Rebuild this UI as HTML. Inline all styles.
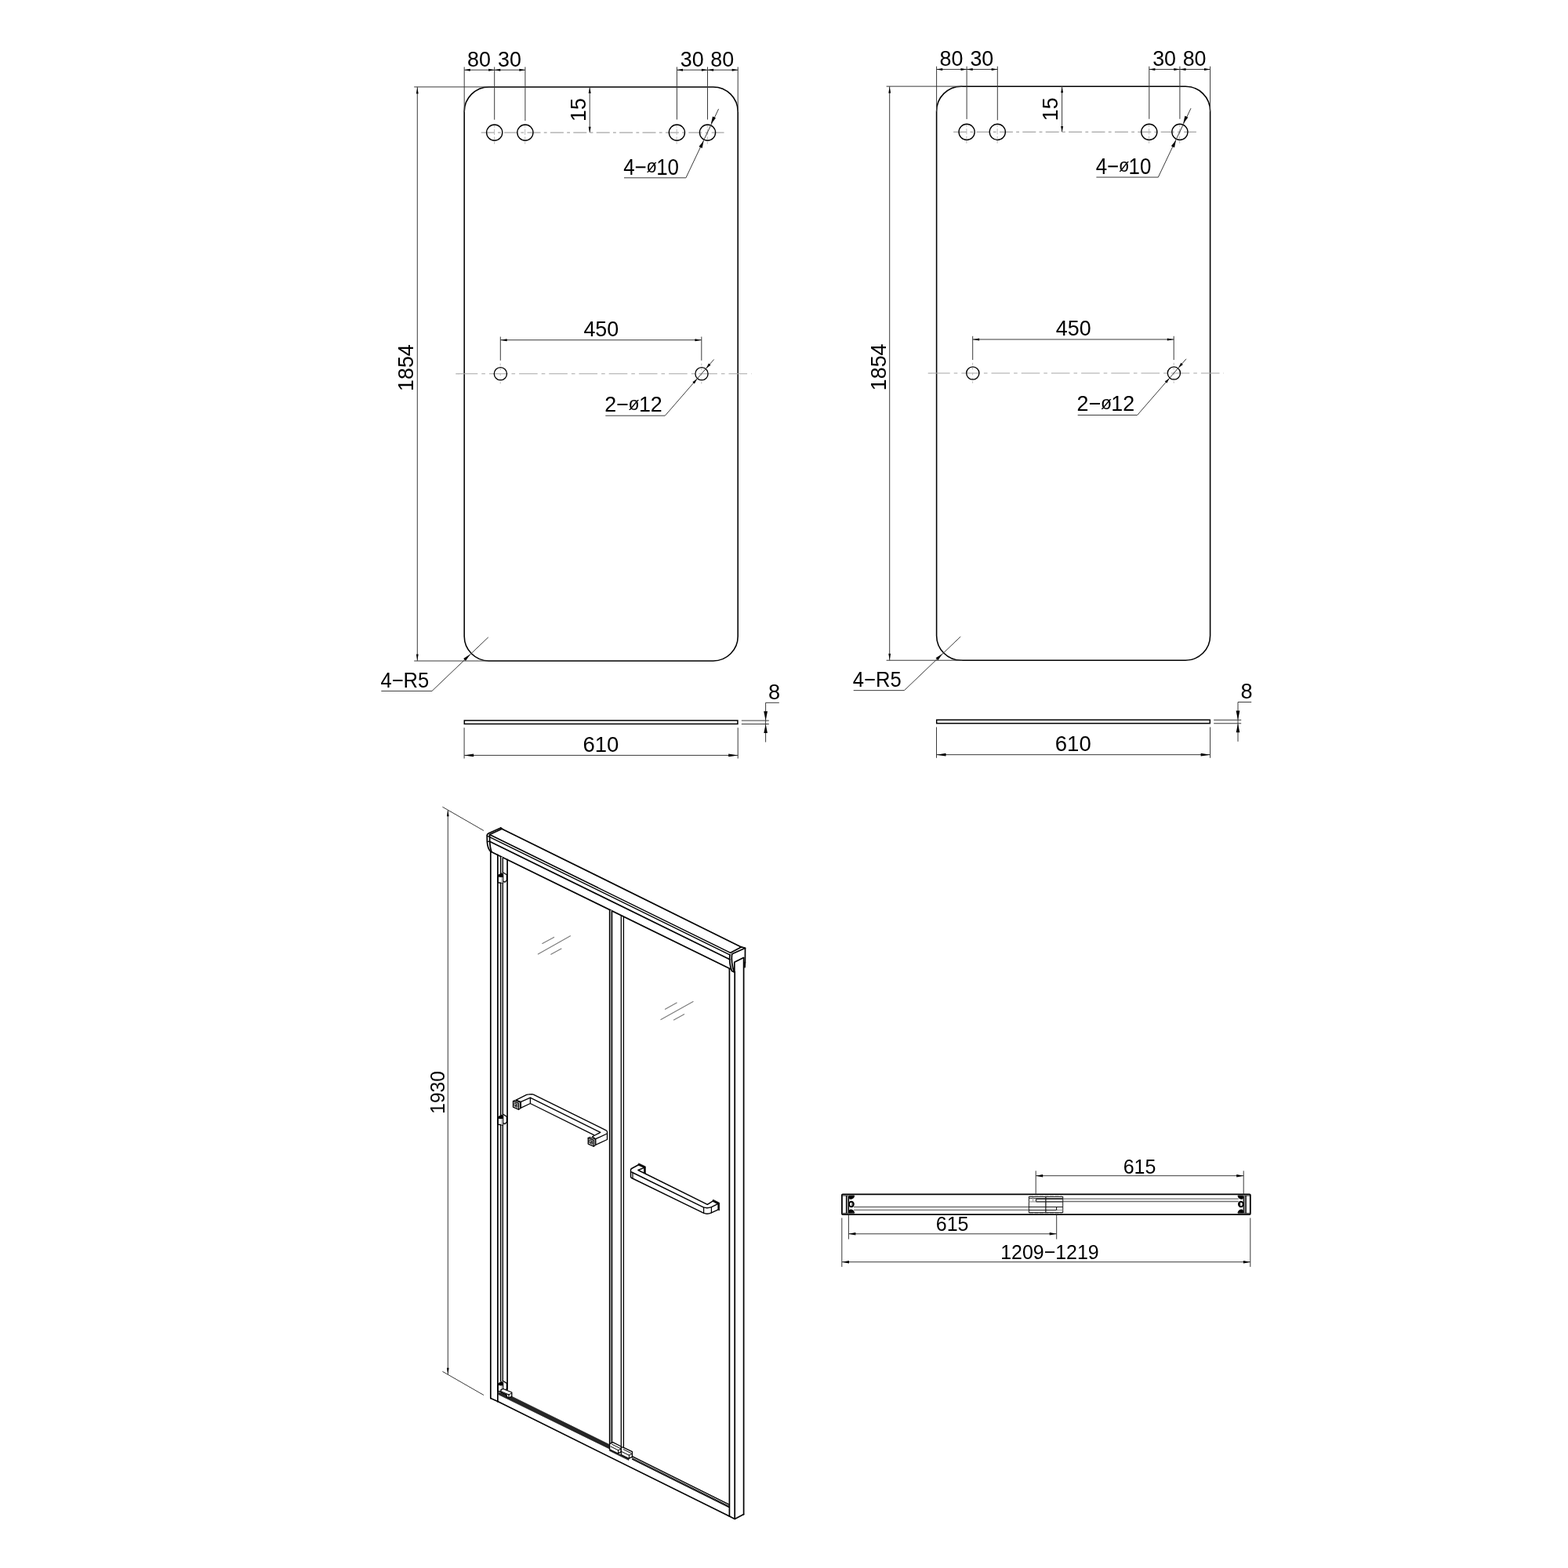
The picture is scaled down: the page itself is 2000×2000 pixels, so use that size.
<!DOCTYPE html>
<html lang="en"><head><meta charset="utf-8"><title>Shower door dimensions</title>
<style>html,body{margin:0;padding:0;background:#fff}body{width:2000px;height:2000px;overflow:hidden}svg{display:block;will-change:transform}text{font-family:"Liberation Sans",Arial,Helvetica,sans-serif;fill:#000}</style>
</head><body>
<svg width="2000" height="2000" viewBox="0 0 2000 2000" role="img" aria-label="Shower door dimension drawing">
<rect width="2000" height="2000" fill="#fff"/>
<g transform="translate(0 0)">
<rect x="592.2" y="110.9" width="349" height="732.1" rx="31.5" ry="31.5" fill="none" stroke="#000" stroke-width="1.55"/>
<line x1="592.2" y1="85.4" x2="592.2" y2="143" stroke="#3a3a3a" stroke-width="1.0" />
<line x1="630.7" y1="85.4" x2="630.7" y2="152.7" stroke="#3a3a3a" stroke-width="1.0" />
<line x1="669.9" y1="85.4" x2="669.9" y2="154" stroke="#3a3a3a" stroke-width="1.0" />
<line x1="863.4" y1="85.4" x2="863.4" y2="152.5" stroke="#3a3a3a" stroke-width="1.0" />
<line x1="902.5" y1="85.4" x2="902.5" y2="152.5" stroke="#3a3a3a" stroke-width="1.0" />
<line x1="941.2" y1="85.4" x2="941.2" y2="143" stroke="#3a3a3a" stroke-width="1.0" />
<line x1="592.2" y1="89.2" x2="669.9" y2="89.2" stroke="#3a3a3a" stroke-width="1.0" />
<line x1="863.4" y1="89.2" x2="941.2" y2="89.2" stroke="#3a3a3a" stroke-width="1.0" />
<polygon points="592.2,89.2 599.8,90.7 599.8,87.7" fill="#000"/>
<polygon points="630.7,89.2 623.1,87.7 623.1,90.7" fill="#000"/>
<polygon points="630.7,89.2 638.3,90.7 638.3,87.7" fill="#000"/>
<polygon points="669.9,89.2 662.3,87.7 662.3,90.7" fill="#000"/>
<polygon points="863.4,89.2 871,90.7 871,87.7" fill="#000"/>
<polygon points="902.5,89.2 894.9,87.7 894.9,90.7" fill="#000"/>
<polygon points="902.5,89.2 910.1,90.7 910.1,87.7" fill="#000"/>
<polygon points="941.2,89.2 933.6,87.7 933.6,90.7" fill="#000"/>
<text transform="translate(596.06 84.6) scale(0.97 1)" font-size="27.7">80</text>
<text transform="translate(634.99 84.6) scale(0.97 1)" font-size="27.7">30</text>
<text transform="translate(867.79 84.6) scale(0.97 1)" font-size="27.7">30</text>
<text transform="translate(906.26 84.6) scale(0.97 1)" font-size="27.7">80</text>
<line x1="752.2" y1="110.9" x2="752.2" y2="169.1" stroke="#3a3a3a" stroke-width="1.0" />
<polygon points="752.2,111.5 750.7,118.9 753.7,118.9" fill="#000"/>
<polygon points="752.2,169.1 753.7,161.7 750.7,161.7" fill="#000"/>
<text transform="translate(746.9 155.02) rotate(-90) scale(0.97 1)" font-size="27.7">15</text>
<line x1="613.4" y1="169.1" x2="923.5" y2="169.1" stroke="#a6a6a6" stroke-width="1.1" stroke-dasharray="17 4.3 3.8 4.3" stroke-dashoffset="-0.3"/>
<line x1="630.5" y1="158.5" x2="630.5" y2="183.6" stroke="#b4b4b4" stroke-width="0.9" stroke-dasharray="4 2.2 7.5 2.2 4 2.2 20"/>
<circle cx="630.7" cy="169.1" r="10.1" fill="none" stroke="#000" stroke-width="1.35"/>
<line x1="669.7" y1="158.5" x2="669.7" y2="183.6" stroke="#b4b4b4" stroke-width="0.9" stroke-dasharray="4 2.2 7.5 2.2 4 2.2 20"/>
<circle cx="669.9" cy="169.1" r="10.1" fill="none" stroke="#000" stroke-width="1.35"/>
<line x1="863.2" y1="158.5" x2="863.2" y2="183.6" stroke="#b4b4b4" stroke-width="0.9" stroke-dasharray="4 2.2 7.5 2.2 4 2.2 20"/>
<circle cx="863.4" cy="169.1" r="10.1" fill="none" stroke="#000" stroke-width="1.35"/>
<line x1="902.3" y1="158.5" x2="902.3" y2="183.6" stroke="#b4b4b4" stroke-width="0.9" stroke-dasharray="4 2.2 7.5 2.2 4 2.2 20"/>
<circle cx="902.5" cy="169.1" r="10.1" fill="none" stroke="#000" stroke-width="1.35"/>
<path d="M916.6,138.9 L874.9,226.8 L796,226.8" stroke="#3a3a3a" stroke-width="1.0" fill="none" />
<polygon points="906.7,158.6 912.97,150.51 909,148.62" fill="#000"/>
<polygon points="897.6,179.4 891.45,187 895.61,188.97" fill="#000"/>
<text transform="translate(795.37 222.7) scale(0.905 1)" font-size="28.6">4−<tspan font-size="24.31" dx="-0.3" dy="-2.57">ø</tspan><tspan dx="-0.9" dy="2.57">10</tspan></text>
<line x1="528.2" y1="110.9" x2="625" y2="110.9" stroke="#3a3a3a" stroke-width="1.0" />
<line x1="528.2" y1="843" x2="625" y2="843" stroke="#3a3a3a" stroke-width="1.0" />
<line x1="532.3" y1="110.9" x2="532.3" y2="843" stroke="#3a3a3a" stroke-width="1.0" />
<polygon points="532.3,111.4 530.9,119.4 533.7,119.4" fill="#000"/>
<polygon points="532.3,842.5 533.7,834.5 530.9,834.5" fill="#000"/>
<text transform="translate(527.1 498.92) rotate(-90) scale(0.97 1)" font-size="27.7">1854</text>
<line x1="638.3" y1="429.5" x2="638.3" y2="459.8" stroke="#3a3a3a" stroke-width="1.0" />
<line x1="894.8" y1="429.5" x2="894.8" y2="459.8" stroke="#3a3a3a" stroke-width="1.0" />
<line x1="638.3" y1="433.7" x2="894.8" y2="433.7" stroke="#3a3a3a" stroke-width="1.0" />
<polygon points="638.3,433.7 646.7,435.2 646.7,432.2" fill="#000"/>
<polygon points="894.8,433.7 886.4,432.2 886.4,435.2" fill="#000"/>
<text transform="translate(744.4 428.7) scale(0.97 1)" font-size="27.7">450</text>
<line x1="581.3" y1="476.8" x2="958.6" y2="476.8" stroke="#a6a6a6" stroke-width="1.1" stroke-dasharray="23.6 5 4.6 5" stroke-dashoffset="-4.4"/>
<line x1="581.3" y1="476.8" x2="586" y2="476.8" stroke="#a6a6a6" stroke-width="1.1" />
<line x1="638.2" y1="463.5" x2="638.2" y2="489.5" stroke="#b4b4b4" stroke-width="0.9" stroke-dasharray="3 3.2 2.4 4 3 3.5 2.4 2 2.5"/>
<circle cx="638.4" cy="476.8" r="8.1" fill="none" stroke="#000" stroke-width="1.35"/>
<line x1="894.8" y1="463.5" x2="894.8" y2="489.5" stroke="#b4b4b4" stroke-width="0.9" stroke-dasharray="3 3.2 2.4 4 3 3.5 2.4 2 2.5"/>
<circle cx="895" cy="476.8" r="8.1" fill="none" stroke="#000" stroke-width="1.35"/>
<path d="M910.6,458.5 L848.3,530.2 L772.3,530.2" stroke="#3a3a3a" stroke-width="1.0" fill="none" />
<polygon points="900.6,470 906.47,465.83 903.91,463.6" fill="#000"/>
<polygon points="889.2,483.2 883.33,487.37 885.89,489.6" fill="#000"/>
<text transform="translate(771.16 525) scale(0.97 1)" font-size="27.7">2−<tspan font-size="23.82" dx="-0.3" dy="-2.27">ø</tspan><tspan dx="-0.7" dy="2.27">12</tspan></text>
<path d="M622.8,812.8 L551.0,881.4 L486.3,881.4" stroke="#3a3a3a" stroke-width="1.0" fill="none" />
<polygon points="599.8,834.6 591.19,840.06 593.95,842.95" fill="#000"/>
<text transform="translate(485.42 876.75) scale(0.924 1)" font-size="27.7">4−R5</text>
<rect x="592.3" y="919.0" width="348.6" height="4.4" fill="none" stroke="#000" stroke-width="1.5"/>
<line x1="592.1" y1="928.2" x2="592.1" y2="967.5" stroke="#3a3a3a" stroke-width="1.0" />
<line x1="941.2" y1="928.2" x2="941.2" y2="967.5" stroke="#3a3a3a" stroke-width="1.0" />
<line x1="592.1" y1="963.4" x2="941.2" y2="963.4" stroke="#3a3a3a" stroke-width="1.0" />
<polygon points="592.1,963.4 604.1,965.3 604.1,961.5" fill="#000"/>
<polygon points="941.2,963.4 929.2,961.5 929.2,965.3" fill="#000"/>
<text transform="translate(743.42 958.6) scale(0.983 1)" font-size="28">610</text>
<line x1="945.8" y1="919.1" x2="980.8" y2="919.1" stroke="#3a3a3a" stroke-width="1.0" />
<line x1="945.8" y1="923.5" x2="980.8" y2="923.5" stroke="#3a3a3a" stroke-width="1.0" />
<path d="M993.8,896.3 L976.6,896.3 L976.6,946.6" stroke="#3a3a3a" stroke-width="1.0" fill="none" />
<polygon points="976.6,919 979,907.2 974.2,907.2" fill="#000"/>
<polygon points="976.6,923.7 974.3,935.1 978.9,935.1" fill="#000"/>
<text transform="translate(980.05 891.8) scale(0.98 1)" font-size="27.7">8</text>
</g>
<g transform="translate(602.4 -0.75)">
<rect x="592.2" y="110.9" width="349" height="732.1" rx="31.5" ry="31.5" fill="none" stroke="#000" stroke-width="1.55"/>
<line x1="592.2" y1="85.4" x2="592.2" y2="143" stroke="#3a3a3a" stroke-width="1.0" />
<line x1="630.7" y1="85.4" x2="630.7" y2="152.7" stroke="#3a3a3a" stroke-width="1.0" />
<line x1="669.9" y1="85.4" x2="669.9" y2="154" stroke="#3a3a3a" stroke-width="1.0" />
<line x1="863.4" y1="85.4" x2="863.4" y2="152.5" stroke="#3a3a3a" stroke-width="1.0" />
<line x1="902.5" y1="85.4" x2="902.5" y2="152.5" stroke="#3a3a3a" stroke-width="1.0" />
<line x1="941.2" y1="85.4" x2="941.2" y2="143" stroke="#3a3a3a" stroke-width="1.0" />
<line x1="592.2" y1="89.2" x2="669.9" y2="89.2" stroke="#3a3a3a" stroke-width="1.0" />
<line x1="863.4" y1="89.2" x2="941.2" y2="89.2" stroke="#3a3a3a" stroke-width="1.0" />
<polygon points="592.2,89.2 599.8,90.7 599.8,87.7" fill="#000"/>
<polygon points="630.7,89.2 623.1,87.7 623.1,90.7" fill="#000"/>
<polygon points="630.7,89.2 638.3,90.7 638.3,87.7" fill="#000"/>
<polygon points="669.9,89.2 662.3,87.7 662.3,90.7" fill="#000"/>
<polygon points="863.4,89.2 871,90.7 871,87.7" fill="#000"/>
<polygon points="902.5,89.2 894.9,87.7 894.9,90.7" fill="#000"/>
<polygon points="902.5,89.2 910.1,90.7 910.1,87.7" fill="#000"/>
<polygon points="941.2,89.2 933.6,87.7 933.6,90.7" fill="#000"/>
<text transform="translate(596.06 84.6) scale(0.97 1)" font-size="27.7">80</text>
<text transform="translate(634.99 84.6) scale(0.97 1)" font-size="27.7">30</text>
<text transform="translate(867.79 84.6) scale(0.97 1)" font-size="27.7">30</text>
<text transform="translate(906.26 84.6) scale(0.97 1)" font-size="27.7">80</text>
<line x1="752.2" y1="110.9" x2="752.2" y2="169.1" stroke="#3a3a3a" stroke-width="1.0" />
<polygon points="752.2,111.5 750.7,118.9 753.7,118.9" fill="#000"/>
<polygon points="752.2,169.1 753.7,161.7 750.7,161.7" fill="#000"/>
<text transform="translate(746.9 155.02) rotate(-90) scale(0.97 1)" font-size="27.7">15</text>
<line x1="613.4" y1="169.1" x2="923.5" y2="169.1" stroke="#a6a6a6" stroke-width="1.1" stroke-dasharray="17 4.3 3.8 4.3" stroke-dashoffset="-0.3"/>
<line x1="630.5" y1="158.5" x2="630.5" y2="183.6" stroke="#b4b4b4" stroke-width="0.9" stroke-dasharray="4 2.2 7.5 2.2 4 2.2 20"/>
<circle cx="630.7" cy="169.1" r="10.1" fill="none" stroke="#000" stroke-width="1.35"/>
<line x1="669.7" y1="158.5" x2="669.7" y2="183.6" stroke="#b4b4b4" stroke-width="0.9" stroke-dasharray="4 2.2 7.5 2.2 4 2.2 20"/>
<circle cx="669.9" cy="169.1" r="10.1" fill="none" stroke="#000" stroke-width="1.35"/>
<line x1="863.2" y1="158.5" x2="863.2" y2="183.6" stroke="#b4b4b4" stroke-width="0.9" stroke-dasharray="4 2.2 7.5 2.2 4 2.2 20"/>
<circle cx="863.4" cy="169.1" r="10.1" fill="none" stroke="#000" stroke-width="1.35"/>
<line x1="902.3" y1="158.5" x2="902.3" y2="183.6" stroke="#b4b4b4" stroke-width="0.9" stroke-dasharray="4 2.2 7.5 2.2 4 2.2 20"/>
<circle cx="902.5" cy="169.1" r="10.1" fill="none" stroke="#000" stroke-width="1.35"/>
<path d="M916.6,138.9 L874.9,226.8 L796,226.8" stroke="#3a3a3a" stroke-width="1.0" fill="none" />
<polygon points="906.7,158.6 912.97,150.51 909,148.62" fill="#000"/>
<polygon points="897.6,179.4 891.45,187 895.61,188.97" fill="#000"/>
<text transform="translate(795.37 222.7) scale(0.905 1)" font-size="28.6">4−<tspan font-size="24.31" dx="-0.3" dy="-2.57">ø</tspan><tspan dx="-0.9" dy="2.57">10</tspan></text>
<line x1="528.2" y1="110.9" x2="625" y2="110.9" stroke="#3a3a3a" stroke-width="1.0" />
<line x1="528.2" y1="843" x2="625" y2="843" stroke="#3a3a3a" stroke-width="1.0" />
<line x1="532.3" y1="110.9" x2="532.3" y2="843" stroke="#3a3a3a" stroke-width="1.0" />
<polygon points="532.3,111.4 530.9,119.4 533.7,119.4" fill="#000"/>
<polygon points="532.3,842.5 533.7,834.5 530.9,834.5" fill="#000"/>
<text transform="translate(527.1 498.92) rotate(-90) scale(0.97 1)" font-size="27.7">1854</text>
<line x1="638.3" y1="429.5" x2="638.3" y2="459.8" stroke="#3a3a3a" stroke-width="1.0" />
<line x1="894.8" y1="429.5" x2="894.8" y2="459.8" stroke="#3a3a3a" stroke-width="1.0" />
<line x1="638.3" y1="433.7" x2="894.8" y2="433.7" stroke="#3a3a3a" stroke-width="1.0" />
<polygon points="638.3,433.7 646.7,435.2 646.7,432.2" fill="#000"/>
<polygon points="894.8,433.7 886.4,432.2 886.4,435.2" fill="#000"/>
<text transform="translate(744.4 428.7) scale(0.97 1)" font-size="27.7">450</text>
<line x1="581.3" y1="476.8" x2="958.6" y2="476.8" stroke="#a6a6a6" stroke-width="1.1" stroke-dasharray="23.6 5 4.6 5" stroke-dashoffset="-4.4"/>
<line x1="581.3" y1="476.8" x2="586" y2="476.8" stroke="#a6a6a6" stroke-width="1.1" />
<line x1="638.2" y1="463.5" x2="638.2" y2="489.5" stroke="#b4b4b4" stroke-width="0.9" stroke-dasharray="3 3.2 2.4 4 3 3.5 2.4 2 2.5"/>
<circle cx="638.4" cy="476.8" r="8.1" fill="none" stroke="#000" stroke-width="1.35"/>
<line x1="894.8" y1="463.5" x2="894.8" y2="489.5" stroke="#b4b4b4" stroke-width="0.9" stroke-dasharray="3 3.2 2.4 4 3 3.5 2.4 2 2.5"/>
<circle cx="895" cy="476.8" r="8.1" fill="none" stroke="#000" stroke-width="1.35"/>
<path d="M910.6,458.5 L848.3,530.2 L772.3,530.2" stroke="#3a3a3a" stroke-width="1.0" fill="none" />
<polygon points="900.6,470 906.47,465.83 903.91,463.6" fill="#000"/>
<polygon points="889.2,483.2 883.33,487.37 885.89,489.6" fill="#000"/>
<text transform="translate(771.16 525) scale(0.97 1)" font-size="27.7">2−<tspan font-size="23.82" dx="-0.3" dy="-2.27">ø</tspan><tspan dx="-0.7" dy="2.27">12</tspan></text>
<path d="M622.8,812.8 L551.0,881.4 L486.3,881.4" stroke="#3a3a3a" stroke-width="1.0" fill="none" />
<polygon points="599.8,834.6 591.19,840.06 593.95,842.95" fill="#000"/>
<text transform="translate(485.42 876.75) scale(0.924 1)" font-size="27.7">4−R5</text>
<rect x="592.3" y="919.0" width="348.6" height="4.4" fill="none" stroke="#000" stroke-width="1.5"/>
<line x1="592.1" y1="928.2" x2="592.1" y2="967.5" stroke="#3a3a3a" stroke-width="1.0" />
<line x1="941.2" y1="928.2" x2="941.2" y2="967.5" stroke="#3a3a3a" stroke-width="1.0" />
<line x1="592.1" y1="963.4" x2="941.2" y2="963.4" stroke="#3a3a3a" stroke-width="1.0" />
<polygon points="592.1,963.4 604.1,965.3 604.1,961.5" fill="#000"/>
<polygon points="941.2,963.4 929.2,961.5 929.2,965.3" fill="#000"/>
<text transform="translate(743.42 958.6) scale(0.983 1)" font-size="28">610</text>
<line x1="945.8" y1="919.1" x2="980.8" y2="919.1" stroke="#3a3a3a" stroke-width="1.0" />
<line x1="945.8" y1="923.5" x2="980.8" y2="923.5" stroke="#3a3a3a" stroke-width="1.0" />
<path d="M993.8,896.3 L976.6,896.3 L976.6,946.6" stroke="#3a3a3a" stroke-width="1.0" fill="none" />
<polygon points="976.6,919 979,907.2 974.2,907.2" fill="#000"/>
<polygon points="976.6,923.7 974.3,935.1 978.9,935.1" fill="#000"/>
<text transform="translate(980.05 891.8) scale(0.98 1)" font-size="27.7">8</text>
</g>
<g stroke-linecap="round" stroke-linejoin="round">
<line x1="691.8" y1="1203.5" x2="706.6" y2="1195.4" stroke="#7a7a7a" stroke-width="1.1" />
<line x1="686.3" y1="1216.9" x2="727.5" y2="1193.8" stroke="#7a7a7a" stroke-width="1.1" />
<line x1="702.8" y1="1217.3" x2="716" y2="1210" stroke="#7a7a7a" stroke-width="1.1" />
<line x1="848.4" y1="1287.2" x2="863.2" y2="1279.1" stroke="#7a7a7a" stroke-width="1.1" />
<line x1="842.9" y1="1300.6" x2="884.1" y2="1277.5" stroke="#7a7a7a" stroke-width="1.1" />
<line x1="859.4" y1="1301" x2="872.6" y2="1293.7" stroke="#7a7a7a" stroke-width="1.1" />
<line x1="640.2" y1="1057.2" x2="945.5" y2="1207.9" stroke="#000" stroke-width="1.7" />
<line x1="624.5" y1="1064.5" x2="931.8" y2="1215.3" stroke="#000" stroke-width="1.5" />
<line x1="624.5" y1="1067.6" x2="930.8" y2="1217.8" stroke="#000" stroke-width="1.5" />
<line x1="624.5" y1="1073.2" x2="930.8" y2="1223.8" stroke="#000" stroke-width="1.7" />
<line x1="626.6" y1="1086.4" x2="931.4" y2="1235.8" stroke="#000" stroke-width="1.7" />
<path d="M638.7,1056.0 L623,1063.0 Q621.2,1063.9 621.2,1065.6 L621.4,1074 Q621.9,1082.5 626.2,1086.6" stroke="#000" stroke-width="1.7" fill="none" />
<path d="M621.3,1066.0 L624.5,1067.6 M621.5,1073.6 L624.5,1073.2" stroke="#000" stroke-width="1.3" fill="none" />
<path d="M640.2,1057.2 L624.5,1064.5 L624.7,1073.6 Q625.1,1081.5 626.9,1086.2" stroke="#000" stroke-width="1.7" fill="none" />
<path d="M638.7,1056.0 L640.3,1057.2" stroke="#000" stroke-width="1.7" fill="none" />
<path d="M931.8,1215.3 L945.5,1207.9 L950.5,1209.3 L950.4,1228" stroke="#000" stroke-width="1.7" fill="none" />
<path d="M933.9,1216.8 L950.5,1209.3" stroke="#000" stroke-width="1.7" fill="none" />
<path d="M930.9,1217.5 Q929.6,1228 933.4,1238.4 L935.8,1239.5" stroke="#000" stroke-width="1.7" fill="none" />
<path d="M933.6,1217 Q932.3,1228 936.4,1240" stroke="#000" stroke-width="1.7" fill="none" />
<path d="M936.8,1239 L936.8,1227.3 L948.4,1221.6" stroke="#000" stroke-width="1.7" fill="none" />
<path d="M950.2,1227.5 L949.9,1233.6" stroke="#000" stroke-width="2.0" fill="none" />
<rect x="638.6" y="1093" width="2.8" height="669" fill="#cfcfcf"/>
<line x1="625.8" y1="1086.6" x2="625.8" y2="1783.5" stroke="#000" stroke-width="1.7" />
<line x1="634.85" y1="1090.4" x2="634.85" y2="1787.6" stroke="#000" stroke-width="1.7" />
<line x1="638.6" y1="1092.3" x2="638.6" y2="1762" stroke="#000" stroke-width="1.2" />
<line x1="641.4" y1="1093.7" x2="641.4" y2="1762" stroke="#000" stroke-width="1.2" />
<line x1="647.1" y1="1096.4" x2="647.1" y2="1772.6" stroke="#000" stroke-width="1.7" />
<line x1="625.8" y1="1783.5" x2="634.85" y2="1787.6" stroke="#000" stroke-width="1.7" />
<path d="M641.4,1112.7 L646.4,1115.8 L646.4,1122.6 L644.2,1125.2 L641.8,1124.2" stroke="#000" stroke-width="1.3" fill="#fff" />
<path d="M635.2,1117.4 L641.6,1118.6 L641.6,1126.6 L635.2,1125.8 Z" stroke="#000" stroke-width="1.5" fill="#fff" />
<rect x="639.2" y="1118.6" width="2.2" height="7.8" fill="#bbb"/>
<path d="M635.4,1116.2 L639.6,1114 L641.8,1114.6 L641.8,1118.2 L635.4,1117.6 Z" stroke="#000" stroke-width="1.0" fill="#000" />
<path d="M641.4,1421.1 L646.4,1424.2 L646.4,1431 L644.2,1433.6 L641.8,1432.6" stroke="#000" stroke-width="1.3" fill="#fff" />
<path d="M635.2,1425.8 L641.6,1427 L641.6,1435 L635.2,1434.2 Z" stroke="#000" stroke-width="1.5" fill="#fff" />
<rect x="639.2" y="1427" width="2.2" height="7.8" fill="#bbb"/>
<path d="M635.4,1424.6 L639.6,1422.4 L641.8,1423 L641.8,1426.6 L635.4,1426 Z" stroke="#000" stroke-width="1.0" fill="#000" />
<path d="M641.4,1761.3 L646.4,1764.4 L646.4,1771.2 L644.2,1773.8 L641.8,1772.8" stroke="#000" stroke-width="1.3" fill="#fff" />
<path d="M635.2,1766 L641.6,1767.2 L641.6,1775.2 L635.2,1774.4 Z" stroke="#000" stroke-width="1.5" fill="#fff" />
<rect x="639.2" y="1767.2" width="2.2" height="7.8" fill="#bbb"/>
<path d="M635.4,1764.8 L639.6,1762.6 L641.8,1763.2 L641.8,1766.8 L635.4,1766.2 Z" stroke="#000" stroke-width="1.0" fill="#000" />
<rect x="777.5" y="1161" width="3.1" height="680" fill="#9a9a9a"/>
<line x1="777.5" y1="1160.4" x2="777.5" y2="1841.5" stroke="#000" stroke-width="1.3" />
<line x1="780.6" y1="1161.9" x2="780.6" y2="1841" stroke="#000" stroke-width="1.3" />
<line x1="792.3" y1="1167.6" x2="792.3" y2="1845.2" stroke="#000" stroke-width="1.3" />
<line x1="795.4" y1="1169.1" x2="795.4" y2="1846.5" stroke="#000" stroke-width="1.3" />
<line x1="930.4" y1="1236.3" x2="930.4" y2="1934.1" stroke="#000" stroke-width="1.7" />
<line x1="937.2" y1="1239.5" x2="937.2" y2="1937.3" stroke="#000" stroke-width="1.7" />
<line x1="948.6" y1="1221.6" x2="948.6" y2="1931.6" stroke="#000" stroke-width="1.7" />
<path d="M930.4,1934.1 L937.2,1937.4 L948.6,1931.6" stroke="#000" stroke-width="1.7" fill="none" />
<line x1="634.85" y1="1787.6" x2="930.4" y2="1934.1" stroke="#000" stroke-width="1.7" />
<path d="M635.6,1775.9 L653.2,1781.4 L777.5,1842.7 L777.5,1848 L635.6,1778.6 Z" stroke="#151515" stroke-width="0.7" fill="#262626" />
<path d="M641.8,1771.5 L652.8,1776 L652.8,1781.2 L649.3,1783 L646.2,1781.6 L646.2,1779.2 L639,1776.2 L639,1772.6 Z" stroke="#000" stroke-width="1.3" fill="#fff" />
<line x1="639.6" y1="1775" x2="649" y2="1778.9" stroke="#000" stroke-width="1.1" />
<line x1="649" y1="1778.9" x2="649" y2="1782.6" stroke="#000" stroke-width="1.1" />
<line x1="649" y1="1778.9" x2="652.6" y2="1777" stroke="#000" stroke-width="1.0" />
<line x1="806.4" y1="1857.6" x2="929.6" y2="1918.9" stroke="#000" stroke-width="1.4" />
<line x1="806.4" y1="1859.7" x2="929.6" y2="1921" stroke="#000" stroke-width="1.0" />
<line x1="806.4" y1="1861.1" x2="929.6" y2="1922.4" stroke="#000" stroke-width="1.2" />
<path d="M777.6,1841.6 L781.7,1839.7 L792.3,1845 L792.3,1851.8 L787.8,1853.8 L777.6,1848.8 Z" stroke="#000" stroke-width="1.3" fill="#fff" />
<line x1="780.6" y1="1842.2" x2="791" y2="1847.4" stroke="#000" stroke-width="1.0" />
<line x1="779" y1="1845" x2="788.5" y2="1849.8" stroke="#000" stroke-width="1.0" />
<line x1="788.5" y1="1849.8" x2="788.5" y2="1853.2" stroke="#000" stroke-width="1.0" />
<line x1="788.5" y1="1849.8" x2="792.3" y2="1848" stroke="#000" stroke-width="1.0" />
<path d="M792.3,1845.6 L795.4,1846.3 L806.4,1851.7 L806.4,1858.2 L802,1860.4 L792.3,1855.6 Z" stroke="#000" stroke-width="1.3" fill="#fff" />
<line x1="795.4" y1="1848.8" x2="805" y2="1853.6" stroke="#000" stroke-width="1.0" />
<line x1="793" y1="1851.6" x2="802.4" y2="1856.2" stroke="#000" stroke-width="1.0" />
<line x1="802.4" y1="1856.2" x2="802.4" y2="1860" stroke="#000" stroke-width="1.0" />
<line x1="802.4" y1="1856.2" x2="806.4" y2="1854.3" stroke="#000" stroke-width="1.0" />
<path d="M777.6,1848.8 L787.8,1853.8 L802,1860.4 L802,1862.6 L777.6,1850.6 Z" stroke="#111" stroke-width="0.6" fill="#222" />
<path d="M658.2,1403.2 L671.6,1396.4 Q672.8,1395.8 674.2,1395.8 L678.4,1395.7 Q679.8,1395.7 681.0,1396.3 L773.2,1441.8 Q774.5,1442.5 774.5,1444 L774.5,1453.5 L760.0,1460.2" stroke="#000" stroke-width="1.3" fill="none" />
<path d="M664.4,1405.3 L676.4,1400.1 L765.8,1444.4 L755.6,1449.8" stroke="#000" stroke-width="1.3" fill="none" />
<path d="M664.4,1413.1 L676.4,1407.5 L757.4,1447.6" stroke="#000" stroke-width="1.3" fill="none" />
<path d="M676.4,1400.1 L676.4,1407.5" stroke="#000" stroke-width="1.3" fill="none" />
<path d="M658.2,1403.2 L664.4,1405.3 L664.4,1413.1" stroke="#000" stroke-width="1.3" fill="none" />
<path d="M774.3,1446.0 L759.8,1452.7 L759.8,1459.9 M755.6,1449.8 L759.8,1452.7" stroke="#000" stroke-width="1.3" fill="none" />
<path d="M654.5,1404.4 L661.5,1407.3 L661.5,1415.2 L654.5,1412.1 Z" stroke="#000" stroke-width="1.3" fill="#fff" />
<path d="M654.5,1404.4 L656.7,1403.4 L663.5,1406.3 L663.5,1414 L661.5,1415.2" stroke="#000" stroke-width="1.1" fill="none" />
<path d="M656.3,1407 L659.9,1408.5 L659.9,1412.4 L656.3,1410.8 Z" stroke="#000" stroke-width="0.9" fill="none" />
<ellipse cx="658.1" cy="1409.7" rx="1.2" ry="1.3" fill="#222"/>
<path d="M750.2,1451.4 L757.2,1454.3 L757.2,1462.2 L750.2,1459.1 Z" stroke="#000" stroke-width="1.3" fill="#fff" />
<path d="M750.2,1451.4 L752.4,1450.4 L759.2,1453.3 L759.2,1461 L757.2,1462.2" stroke="#000" stroke-width="1.1" fill="none" />
<path d="M752,1454 L755.6,1455.5 L755.6,1459.4 L752,1457.8 Z" stroke="#000" stroke-width="0.9" fill="none" />
<ellipse cx="753.8" cy="1456.7" rx="1.2" ry="1.3" fill="#222"/>
<path d="M821.2,1489.6 L813.9,1492.5 L902.3,1536.3 L909.8,1531.6" stroke="#000" stroke-width="1.45" fill="none" />
<path d="M814.8,1485.5 L805.6,1490.5 Q804.5,1491.1 804.5,1492.4 L804.5,1501.0 Q804.6,1502.0 805.6,1502.5 L897.2,1547.2 Q902.3,1549.3 907.4,1546.8 L916.1,1542.8" stroke="#000" stroke-width="1.45" fill="none" />
<path d="M805.6,1495.0 L897.2,1539.9 Q902.3,1541.6 907.4,1539.6 L915.0,1535.8" stroke="#000" stroke-width="1.45" fill="none" />
<path d="M807.0,1495.8 L807.0,1503 M897.6,1540.1 L897.6,1547.3 M907.4,1539.6 L907.4,1546.8" stroke="#000" stroke-width="1.2" fill="none" />
<path d="M814.9,1483.9 L823.4,1487.9 L823.4,1496.8 L821.4,1495.9 L821.4,1489.6 L814.2,1486.2 Z" stroke="#000" stroke-width="0.6" fill="#000" />
<path d="M909.8,1530.2 L917.7,1534.2 L917.7,1543.9 L915.7,1543 L915.7,1536 L909.2,1532.6 Z" stroke="#000" stroke-width="0.6" fill="#000" />
</g>
<line x1="564.4" y1="1029.2" x2="617" y2="1059.5" stroke="#3a3a3a" stroke-width="1.0" />
<line x1="564.4" y1="1749.3" x2="617" y2="1779.5" stroke="#3a3a3a" stroke-width="1.0" />
<line x1="571.3" y1="1033.4" x2="571.3" y2="1753.2" stroke="#3a3a3a" stroke-width="1.0" />
<polygon points="571.3,1033.2 569.9,1041.2 572.7,1041.2" fill="#000"/>
<polygon points="571.3,1752.8 572.7,1744.8 569.9,1744.8" fill="#000"/>
<text transform="translate(566.7 1420.74) rotate(-90) scale(0.968 1)" font-size="25.4">1930</text>
<line x1="1089" y1="1539.5" x2="1312.4" y2="1539.5" stroke="#6e6e6e" stroke-width="1.3" />
<line x1="1089" y1="1543.3" x2="1312.4" y2="1543.3" stroke="#6e6e6e" stroke-width="1.3" />
<line x1="1355.7" y1="1529.1" x2="1579.7" y2="1529.1" stroke="#6e6e6e" stroke-width="1.3" />
<line x1="1355.7" y1="1532.5" x2="1579.7" y2="1532.5" stroke="#6e6e6e" stroke-width="1.3" />
<rect x="1073.9" y="1523.3" width="520.9" height="25.8" rx="1" fill="none" stroke="#000" stroke-width="1.8"/>
<rect x="1080.2" y="1525.6" width="2.2" height="21.4" fill="#999"/>
<line x1="1074.5" y1="1525" x2="1089.5" y2="1525" stroke="#222" stroke-width="1.0" />
<line x1="1074.5" y1="1547.5" x2="1089.8" y2="1547.5" stroke="#555" stroke-width="1.2" />
<line x1="1079.6" y1="1525" x2="1079.6" y2="1547.5" stroke="#000" stroke-width="1.4" />
<line x1="1082.5" y1="1526" x2="1082.5" y2="1547" stroke="#000" stroke-width="1.2" />
<path d="M1083,1525.4 L1089.9,1525.2 Q1089.6,1528.6 1085.6,1529.4 Q1083.8,1529.6 1083,1528.6 Z" stroke="#000" stroke-width="0.6" fill="#000" />
<path d="M1083,1547.0 L1090,1546.8 Q1088.6,1543.0 1085.6,1542.8 Q1083.8,1542.9 1083,1544 Z" stroke="#000" stroke-width="0.6" fill="#000" />
<ellipse cx="1085.9" cy="1536.0" rx="2.9" ry="3.3" fill="#fff" stroke="#000" stroke-width="1.9"/>
<line x1="1087" y1="1533.8" x2="1087" y2="1538.4" stroke="#000" stroke-width="1.0" />
<rect x="1586.3" y="1525.6" width="2.2" height="21.4" fill="#999"/>
<line x1="1594.2" y1="1525" x2="1579.2" y2="1525" stroke="#222" stroke-width="1.0" />
<line x1="1594.2" y1="1547.5" x2="1578.9" y2="1547.5" stroke="#555" stroke-width="1.2" />
<line x1="1589.1" y1="1525" x2="1589.1" y2="1547.5" stroke="#000" stroke-width="1.4" />
<line x1="1586.2" y1="1526" x2="1586.2" y2="1547" stroke="#000" stroke-width="1.2" />
<path d="M1585.7,1525.4 L1578.8,1525.2 Q1579.1,1528.6 1583.1,1529.4 Q1584.9,1529.6 1585.7,1528.6 Z" stroke="#000" stroke-width="0.6" fill="#000" />
<path d="M1585.7,1547.0 L1578.7,1546.8 Q1580.1,1543.0 1583.1,1542.8 Q1584.9,1542.9 1585.7,1544 Z" stroke="#000" stroke-width="0.6" fill="#000" />
<ellipse cx="1582.8" cy="1536.0" rx="2.9" ry="3.3" fill="#fff" stroke="#000" stroke-width="1.9"/>
<line x1="1581.7" y1="1533.8" x2="1581.7" y2="1538.4" stroke="#000" stroke-width="1.0" />
<rect x="1312.4" y="1526.5" width="43.3" height="20.1" fill="#fff" stroke="#1a1a1a" stroke-width="1.0"/>
<line x1="1312.4" y1="1528.6" x2="1355.7" y2="1528.6" stroke="#1a1a1a" stroke-width="0.9" />
<line x1="1321.5" y1="1529.4" x2="1355.7" y2="1529.4" stroke="#1a1a1a" stroke-width="1.0" />
<line x1="1321.5" y1="1532.8" x2="1355.7" y2="1532.8" stroke="#1a1a1a" stroke-width="1.3" />
<line x1="1321.5" y1="1529.4" x2="1321.5" y2="1532.8" stroke="#1a1a1a" stroke-width="1.2" />
<line x1="1312.4" y1="1532.9" x2="1321.5" y2="1532.9" stroke="#888" stroke-width="1.0" />
<line x1="1317.6" y1="1527" x2="1317.6" y2="1532.6" stroke="#999" stroke-width="1.0" />
<line x1="1312.4" y1="1539.5" x2="1355.7" y2="1539.5" stroke="#1a1a1a" stroke-width="1.1" />
<line x1="1312.4" y1="1543.5" x2="1347.6" y2="1543.5" stroke="#1a1a1a" stroke-width="1.1" />
<line x1="1347.6" y1="1543.5" x2="1355.7" y2="1543.5" stroke="#888" stroke-width="0.9" />
<line x1="1333.9" y1="1526.5" x2="1333.9" y2="1546.6" stroke="#1a1a1a" stroke-width="1.3" />
<line x1="1347.6" y1="1539.5" x2="1347.6" y2="1543.5" stroke="#1a1a1a" stroke-width="1.2" />
<line x1="1313" y1="1524.9" x2="1355" y2="1524.9" stroke="#999" stroke-width="0.8" stroke-dasharray="5 1.5"/>
<line x1="1313" y1="1547.6" x2="1355" y2="1547.6" stroke="#999" stroke-width="0.8" stroke-dasharray="5 1.5"/>
<line x1="1321.2" y1="1493.4" x2="1321.2" y2="1523.3" stroke="#3a3a3a" stroke-width="1.0" />
<line x1="1586.2" y1="1493.4" x2="1586.2" y2="1523.3" stroke="#3a3a3a" stroke-width="1.0" />
<line x1="1321.2" y1="1499.7" x2="1586.2" y2="1499.7" stroke="#3a3a3a" stroke-width="1.0" />
<polygon points="1321.2,1499.7 1330.2,1501.5 1330.2,1497.9" fill="#000"/>
<polygon points="1586.2,1499.7 1577.2,1497.9 1577.2,1501.5" fill="#000"/>
<text transform="translate(1432.7 1496.6) scale(0.941 1)" font-size="26.6">615</text>
<line x1="1082.4" y1="1549.8" x2="1082.4" y2="1580.6" stroke="#3a3a3a" stroke-width="1.0" />
<line x1="1347.7" y1="1549.8" x2="1347.7" y2="1580.6" stroke="#3a3a3a" stroke-width="1.0" />
<line x1="1082.4" y1="1573.8" x2="1347.7" y2="1573.8" stroke="#3a3a3a" stroke-width="1.0" />
<polygon points="1082.4,1573.8 1091.4,1575.6 1091.4,1572" fill="#000"/>
<polygon points="1347.7,1573.8 1338.7,1572 1338.7,1575.6" fill="#000"/>
<text transform="translate(1193.75 1570.2) scale(0.941 1)" font-size="26.6">615</text>
<line x1="1073.8" y1="1553.5" x2="1073.8" y2="1615.9" stroke="#3a3a3a" stroke-width="1.0" />
<line x1="1594.8" y1="1553.5" x2="1594.8" y2="1615.9" stroke="#3a3a3a" stroke-width="1.0" />
<line x1="1074" y1="1609.7" x2="1594.9" y2="1609.7" stroke="#3a3a3a" stroke-width="1.0" />
<polygon points="1074,1609.7 1083,1611.5 1083,1607.9" fill="#000"/>
<polygon points="1594.9,1609.7 1585.9,1607.9 1585.9,1611.5" fill="#000"/>
<text transform="translate(1276.13 1606) scale(0.953 1)" font-size="26.2">1209−1219</text>
</svg></body></html>
